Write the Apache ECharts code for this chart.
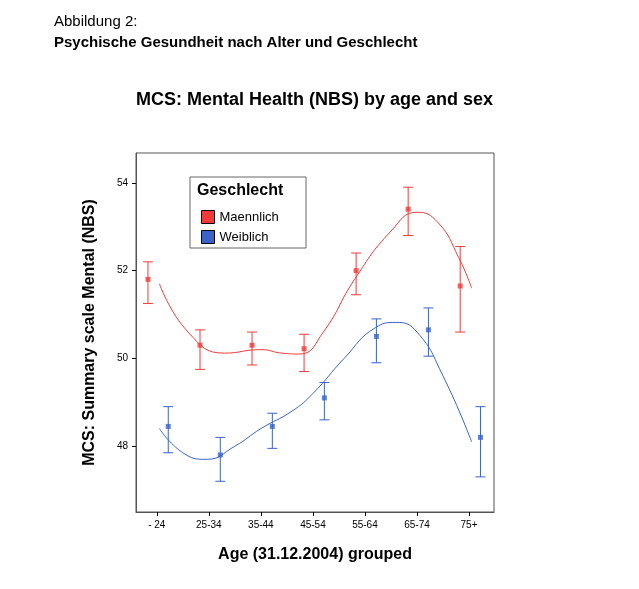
<!DOCTYPE html>
<html>
<head>
<meta charset="utf-8">
<script src="https://cdn.jsdelivr.net/npm/echarts@6/dist/echarts.min.js"></script>
<style>body{margin:0;background:#fff}#c{width:639px;height:589px}</style>
</head>
<body>
<div id="c"></div>
<script>
const ageGroups = ['- 24', '25-34', '35-44', '45-54', '55-64', '65-74', '75+']
const yTicks = [48, 50, 52, 54]
// Mittelwerte und Konfidenzintervalle
const maleMean = [51.8, 50.3, 50.3, 50.22, 52.0, 53.4, 51.65]
const maleLow = [51.25, 49.75, 49.85, 49.7, 51.45, 52.8, 50.6]
const maleHigh = [52.2, 50.65, 50.6, 50.55, 52.4, 53.9, 52.55]
const femaleMean = [48.45, 47.8, 48.45, 49.1, 50.5, 50.65, 48.2]
const femaleLow = [47.85, 47.2, 47.95, 48.6, 49.9, 50.05, 47.3]
const femaleHigh = [48.9, 48.2, 48.75, 49.45, 50.9, 51.15, 48.9]
// Glättungskurven (Position in Gruppen, Wert)
const maleCurve = [[1.05, 51.7], [1.6, 50.6], [2.3, 50.12], [3.0, 50.2], [3.4, 50.12], [3.75, 50.1], [4.2, 50.6], [4.8, 51.8], [5.5, 52.9], [6.0, 53.33], [6.4, 53.1], [6.8, 52.3], [7.05, 51.6]]
const femaleCurve = [[1.05, 48.4], [1.5, 47.85], [1.95, 47.7], [2.5, 48.0], [3.0, 48.4], [3.6, 48.8], [4.0, 49.2], [4.6, 50.0], [5.2, 50.7], [5.6, 50.82], [6.0, 50.6], [6.5, 49.6], [7.05, 48.1]]

const MALE = '#f23a3a', FEMALE = '#3a62c8'
const offM = -0.17, offF = 0.22
const xPos = ageGroups.map((g, i) => i + 1)

function errSeries(name, color, off, mean, low, high) {
  return {
    type: 'custom', name: name, z: 5,
    renderItem: function (params, api) {
      const x = api.value(0)
      const lo = api.coord([x, api.value(1)])
      const hi = api.coord([x, api.value(2)])
      const w = 5
      const st = { stroke: color, lineWidth: 1 }
      return { type: 'group', children: [
        { type: 'line', shape: { x1: lo[0], y1: lo[1], x2: hi[0], y2: hi[1] }, style: st },
        { type: 'line', shape: { x1: lo[0] - w, y1: lo[1], x2: lo[0] + w, y2: lo[1] }, style: st },
        { type: 'line', shape: { x1: hi[0] - w, y1: hi[1], x2: hi[0] + w, y2: hi[1] }, style: st }
      ] }
    },
    data: mean.map((m, i) => [i + 1 + off, low[i], high[i]])
  }
}

const chart = echarts.init(document.getElementById('c'))
chart.setOption({
  animation: false,
  textStyle: { fontFamily: 'Liberation Sans, Arial' },
  graphic: [
    { type: 'text', left: 54, top: 14, style: { text: 'Abbildung 2:', fontSize: 15, fill: '#000', fontFamily: 'Liberation Sans' } },
    { type: 'text', left: 54, top: 35, style: { text: 'Psychische Gesundheit nach Alter und Geschlecht', fontSize: 15, fontWeight: 'bold', fill: '#000', fontFamily: 'Liberation Sans' } },
    { type: 'text', left: 136, top: 91, style: { text: 'MCS: Mental Health (NBS) by age and sex', fontSize: 18, fontWeight: 'bold', fill: '#000', fontFamily: 'Liberation Sans' } },
    { type: 'rect', shape: { x: 190, y: 177, width: 116, height: 71 }, style: { fill: '#fff', stroke: '#666', lineWidth: 1 }, z: 10 },
    { type: 'text', left: 197, top: 183, z: 11, style: { text: 'Geschlecht', fontSize: 16, fontWeight: 'bold', fill: '#000', fontFamily: 'Liberation Sans' } }
  ],
  legend: {
    left: 196, top: 205, orient: 'vertical', itemGap: 6, itemWidth: 13, itemHeight: 13, z: 12,
    textStyle: { fontSize: 13, color: '#000' },
    data: [
      { name: 'Maennlich', icon: 'rect', itemStyle: { color: MALE, borderColor: '#000', borderWidth: 1 } },
      { name: 'Weiblich', icon: 'rect', itemStyle: { color: FEMALE, borderColor: '#000', borderWidth: 1 } }
    ]
  },
  grid: { left: 136, top: 153, width: 358, height: 359, show: true, borderColor: '#555', borderWidth: 1 },
  xAxis: {
    type: 'value', min: 0.6, max: 7.48,
    name: 'Age (31.12.2004) grouped', nameLocation: 'middle', nameGap: 35,
    nameTextStyle: { fontSize: 16, fontWeight: 'bold', color: '#000' },
    axisLine: { lineStyle: { color: '#555' } },
    axisTick: { show: true, length: 4, customValues: xPos, lineStyle: { color: '#000' } },
    splitLine: { show: false },
    axisLabel: { fontSize: 10, color: '#000', customValues: xPos, formatter: v => ageGroups[Math.round(v) - 1] }
  },
  yAxis: {
    type: 'value', min: 46.5, max: 54.68,
    name: 'MCS: Summary scale Mental (NBS)', nameLocation: 'middle', nameGap: 38,
    nameTextStyle: { fontSize: 16, fontWeight: 'bold', color: '#000' },
    axisLine: { show: true, lineStyle: { color: '#555' } },
    axisTick: { show: true, length: 4, customValues: yTicks, lineStyle: { color: '#000' } },
    splitLine: { show: false },
    axisLabel: { fontSize: 10, color: '#000', customValues: yTicks }
  },
  series: [
    { type: 'line', name: 'Maennlich', data: maleCurve, smooth: 0.5, showSymbol: false, lineStyle: { color: MALE, width: 1 }, itemStyle: { color: MALE } },
    { type: 'line', name: 'Weiblich', data: femaleCurve, smooth: 0.5, showSymbol: false, lineStyle: { color: FEMALE, width: 1 }, itemStyle: { color: FEMALE } },
    errSeries('Maennlich', MALE, offM, maleMean, maleLow, maleHigh),
    errSeries('Weiblich', FEMALE, offF, femaleMean, femaleLow, femaleHigh),
    { type: 'scatter', name: 'Maennlich', symbol: 'rect', symbolSize: 5, itemStyle: { color: MALE }, z: 6, data: maleMean.map((m, i) => [i + 1 + offM, m]) },
    { type: 'scatter', name: 'Weiblich', symbol: 'rect', symbolSize: 5, itemStyle: { color: FEMALE }, z: 6, data: femaleMean.map((m, i) => [i + 1 + offF, m]) }
  ]
})
</script>
</body>
</html>
